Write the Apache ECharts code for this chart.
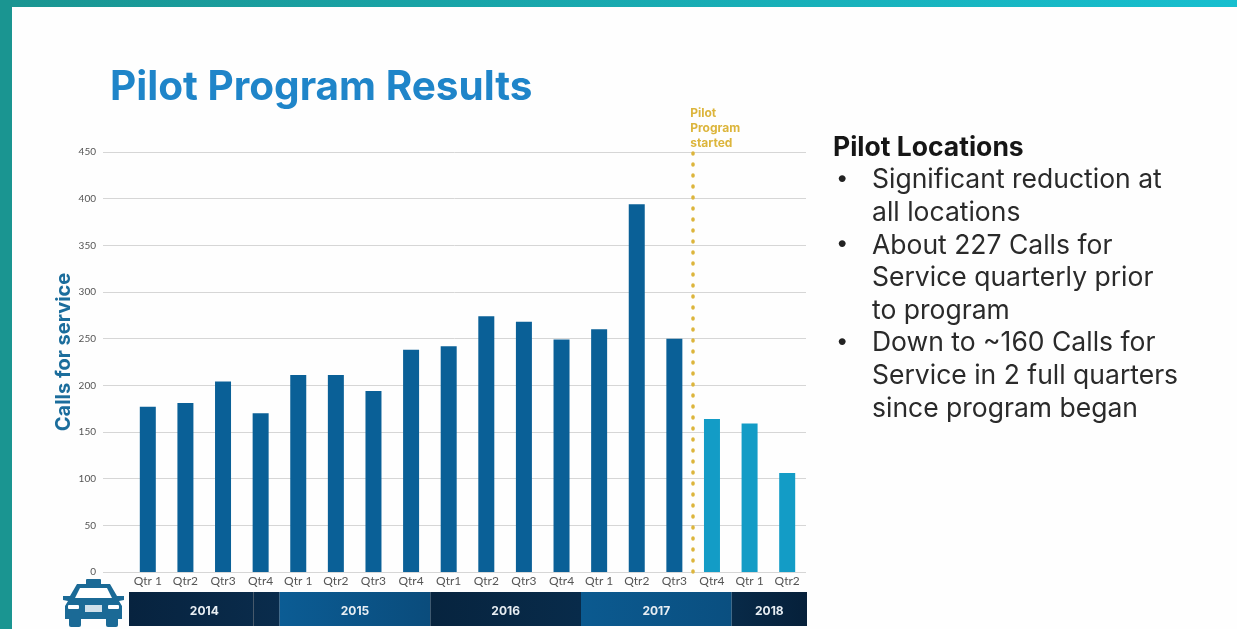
<!DOCTYPE html>
<html>
<head>
<meta charset="utf-8">
<title>Pilot Program Results</title>
<script src="https://cdn.jsdelivr.net/npm/echarts@6/dist/echarts.min.js"></script>
<style>
html, body { margin: 0; padding: 0; background: #fff; }
#chart { width: 1237px; height: 629px; }
</style>
</head>
<body>
<div id="chart"></div>
<script>
const quarters = ['Qtr 1', 'Qtr2', 'Qtr3', 'Qtr4', 'Qtr 1', 'Qtr2', 'Qtr3', 'Qtr4', 'Qtr1', 'Qtr2', 'Qtr3', 'Qtr4', 'Qtr 1', 'Qtr2', 'Qtr3', 'Qtr4', 'Qtr 1', 'Qtr2']
const calls = [177, 181, 204, 170, 211, 211, 194, 238, 242, 274, 268, 249, 260, 394, 250, 164, 159, 106]
const years = ['2014', '2015', '2016', '2017', '2018']
const quartersPerYear = [4, 4, 4, 4, 2]
const pilotStart = 15 // quarters before the dotted line
const yMax = 450
const yStep = 50
const pilotNote = 'Pilot\nProgram\nstarted'
const panelTitle = 'Pilot Locations'
const panelLines = [
    ['•', 'Significant reduction at'],
    ['', 'all locations'],
    ['•', 'About 227 Calls for'],
    ['', 'Service quarterly prior'],
    ['', 'to program'],
    ['•', 'Down to ~160 Calls for'],
    ['', 'Service in 2 full quarters'],
    ['', 'since program began']
]

const gradient = (a, b) => new echarts.graphic.LinearGradient(0, 0, 1, 0, [{offset: 0, color: a}, {offset: 1, color: b}])
const yearColors = [
    gradient('#07233f', '#0a2c4c'),
    gradient('#0b5c94', '#0a4c7c'),
    gradient('#07243f', '#082b4a'),
    gradient('#0b5a90', '#0a4f80'),
    gradient('#082a48', '#06203a')
]

// the text panel on the right, one graphic text per line
const panelText = [{
    type: 'text', left: 833, top: 135,
    style: {text: panelTitle, font: 'bold 26.5px Inter', fill: '#161616'}
}]
panelLines.forEach((line, i) => {
    const top = 167 + i * 32.6
    if (line[0]) {
        panelText.push({type: 'text', left: 836, top: top, style: {text: line[0], font: '22px Inter', fill: '#222'}})
    }
    panelText.push({type: 'text', left: 872, top: top, style: {text: line[1], font: '26.5px Inter', fill: '#2a2a2a'}})
})

const chart = echarts.init(document.getElementById('chart'))
chart.setOption({
    animation: false,
    backgroundColor: '#fefefe',
    title: {
        text: 'Pilot Program Results',
        left: 105,
        top: 62,
        textStyle: {color: '#1f85c9', fontFamily: 'Inter', fontWeight: 'bold', fontSize: 40.5}
    },
    grid: [
        {left: 103, top: 152, width: 703, height: 420},   // gridlines and y labels
        {left: 129, top: 152, width: 677, height: 420},   // the bars
        {left: 129, top: 592, width: 678, height: 34}     // year band
    ],
    xAxis: [
        {gridIndex: 0, type: 'value', min: 0, max: 1, show: false},
        {
            gridIndex: 1,
            type: 'category',
            data: quarters,
            axisTick: {show: false},
            axisLine: {show: false},
            axisLabel: {interval: 0, margin: 3, color: '#555', fontFamily: 'Lato', fontSize: 12}
        },
        {gridIndex: 1, type: 'value', min: 0, max: quarters.length, show: false},
        {gridIndex: 2, type: 'value', min: 0, max: quarters.length, show: false}
    ],
    yAxis: [
        {
            gridIndex: 0,
            type: 'value',
            min: 0,
            max: yMax,
            interval: yStep,
            name: 'Calls for service',
            nameLocation: 'middle',
            nameGap: 29,
            nameMoveOverlap: false,
            nameTextStyle: {color: '#1b6d9c', fontFamily: 'Inter', fontWeight: 'bold', fontSize: 20, padding: [0, 0, 0, 20]},
            axisLine: {show: false},
            axisTick: {show: false},
            axisLabel: {margin: 7, color: '#555', fontFamily: 'Lato', fontSize: 10},
            splitLine: {lineStyle: {color: '#d6d6d6', width: 1}}
        },
        {gridIndex: 1, type: 'value', min: 0, max: yMax, show: false},
        {gridIndex: 2, type: 'category', data: ['years'], show: false}
    ],
    series: [
        {
            type: 'bar',
            xAxisIndex: 1,
            yAxisIndex: 1,
            barWidth: 16,
            // quarters after the pilot started are the lighter blue
            itemStyle: {color: p => (p.dataIndex >= pilotStart ? '#139cc6' : '#0a6097')},
            data: calls
        },
        {
            type: 'line',
            xAxisIndex: 2,
            yAxisIndex: 1,
            data: [],
            markLine: {
                symbol: 'none',
                silent: true,
                lineStyle: {color: '#dcb53c', type: [1, 10], width: 3.5, cap: 'round'},
                label: {
                    show: true,
                    position: 'end',
                    formatter: pilotNote,
                    align: 'left',
                    verticalAlign: 'bottom',
                    offset: [-3, 4],
                    color: '#dcb53c',
                    fontFamily: 'Inter',
                    fontWeight: 'bold',
                    fontSize: 12,
                    lineHeight: 15
                },
                data: [{xAxis: pilotStart}]
            }
        }
    ].concat(years.map((year, i) => ({
        type: 'bar',
        name: year,
        stack: 'years',
        xAxisIndex: 3,
        yAxisIndex: 2,
        barWidth: '100%',
        itemStyle: {color: yearColors[i]},
        label: {
            show: true,
            position: 'inside',
            offset: [0, 2],
            formatter: year,
            color: '#e8eef3',
            fontFamily: 'Inter',
            fontWeight: 'bold',
            fontSize: 12
        },
        data: [quartersPerYear[i]]
    }))),
    graphic: [
        // slide frame
        {
            type: 'rect', z: 10,
            shape: {x: 0, y: 0, width: 1237, height: 7},
            style: {fill: new echarts.graphic.LinearGradient(0, 0, 1, 0, [{offset: 0, color: '#1a9591'}, {offset: 1, color: '#17bfcf'}])}
        },
        {type: 'rect', z: 10, shape: {x: 0, y: 0, width: 12, height: 629}, style: {fill: '#1a9591'}},
        // seam in the 2014 band
        {type: 'rect', z: 10, shape: {x: 253, y: 592, width: 1, height: 34}, style: {fill: '#47596b'}},
        // police car
        {
            type: 'group', left: 63, top: 579, z: 10,
            children: [
                {type: 'rect', shape: {x: 6, y: 36, width: 12, height: 12, r: 2}, style: {fill: '#1b6a96'}},
                {type: 'rect', shape: {x: 43, y: 36, width: 12, height: 12, r: 2}, style: {fill: '#1b6a96'}},
                {type: 'polygon', shape: {points: [[14, 5], [47, 5], [54, 17], [61, 17], [61, 21], [56, 22], [59, 27], [59, 40], [2, 40], [2, 27], [5, 22], [0, 21], [0, 17], [7, 17]]}, style: {fill: '#1b6a96'}},
                {type: 'rect', shape: {x: 23, y: 0, width: 15, height: 6, r: 1}, style: {fill: '#1b6a96'}},
                {type: 'polygon', shape: {points: [[17, 9], [44, 9], [49, 19], [12, 19]]}, style: {fill: '#fff'}},
                {type: 'rect', shape: {x: 5, y: 26, width: 11, height: 4, r: 1}, style: {fill: '#fff'}},
                {type: 'rect', shape: {x: 45, y: 26, width: 11, height: 4, r: 1}, style: {fill: '#fff'}},
                {type: 'rect', shape: {x: 22, y: 26, width: 17, height: 7}, style: {fill: '#cfe0ea'}}
            ]
        }
    ].concat(panelText)
})
</script>
</body>
</html>
